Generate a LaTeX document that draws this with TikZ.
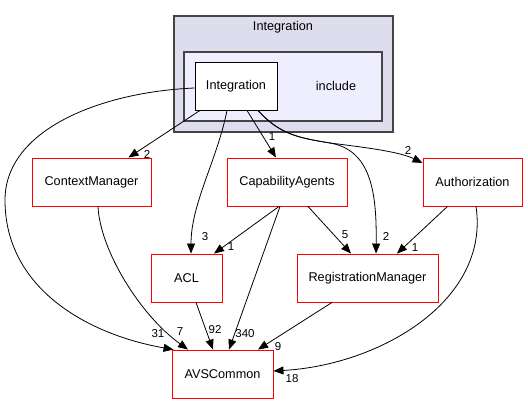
\documentclass[tikz,border=0pt]{standalone}
\usepackage{fontspec}
\setmainfont{Liberation Sans}
\usetikzlibrary{arrows.meta,calc}
\definecolor{clusterA}{HTML}{DDDDEE}
\definecolor{clusterB}{HTML}{EEEEFF}
\definecolor{clusterline}{HTML}{444444}
\begin{document}
\begin{tikzpicture}[x=1pt,y=-1pt,
  cluster/.style={draw=clusterline, line width=1.3pt, inner sep=0pt},
  box/.style={draw=red, line width=0.9pt, fill=white, minimum height=48pt, inner sep=0pt, font=\fontsize{12.7}{15}\selectfont},
  dirbox/.style={draw=black, line width=0.9pt, fill=white, minimum height=48pt, minimum width=82pt, inner sep=0pt, font=\fontsize{12.7}{15}\selectfont},
  ttl/.style={inner sep=0pt, font=\fontsize{12.7}{15}\selectfont},
  lbl/.style={inner sep=0pt, font=\fontsize{11.5}{13}\selectfont},
  edge/.style={draw=black, line width=0.8pt, -{Triangle[length=10pt,width=8pt]}},
]
\useasboundingbox (0,0) rectangle (528,404);
\node[cluster, fill=clusterA, minimum width=219pt, minimum height=116pt] (outer) at (283.5,74) {};
\node[ttl] (outert) at (283,27) {Integration};
\node[cluster, fill=clusterB, minimum width=198pt, minimum height=69pt] (inner) at (283,86.5) {};
\node[ttl] (innert) at (336,86) {include};
\node[dirbox] (intg) at (236,86) {Integration};

\node[box, minimum width=119pt] (cm) at (91.5,182) {ContextManager};
\node[box, minimum width=120pt] (cap) at (287,182) {CapabilityAgents};
\node[box, minimum width=99pt] (auth) at (472.5,182) {Authorization};
\node[box, minimum width=71pt] (acl) at (186.5,278) {ACL};
\node[box, minimum width=141pt] (reg) at (367.5,278) {RegistrationManager};
\node[box, minimum width=101pt] (avs) at (222.5,374) {AVSCommon};

\coordinate (split) at (330,143);

% edges from Integration
\draw[edge] ($(intg.south)+(-36,0)$) -- ($(cm.north)+(37,0)$);
\draw[edge] ($(intg.south)+(-9,0)$) .. controls +(-10,50) and +(0,-50) .. ($(acl.north)+(4.5,0)$);
\draw[edge] ($(intg.south)+(11,0)$) -- ($(cap.north)+(-11,0)$);
\draw[edge] ($(intg.south)+(22,0)$) .. controls (280,135) and (300,138) .. (split) .. controls (370,150) and (377,190) .. ($(reg.north)+(8.5,0)$);
\draw[edge] ($(intg.south)+(22,0)$) .. controls (280,135) and (300,138) .. (split) .. controls (370,148) and (400,152) .. ($(auth.west)+(0,-19)$);
\draw[edge] ($(intg.west)+(0,2)$) .. controls (100,92) and (5,130) .. (5,200) .. controls (5,290) and (90,335) .. ($(avs.north west)+(2,0)$);
% other edges
\draw[edge] ($(cm.south)+(6.5,0)$) .. controls (100,250) and (140,315) .. ($(avs.north)+(-34.5,0)$);
\draw[edge] ($(acl.south)+(9.5,0)$) -- ($(avs.north)+(-9.5,0)$);
\draw[edge] ($(cap.south)+(-7,0)$) -- ($(avs.north)+(6.5,0)$);
\draw[edge] ($(cap.south)+(-8,0)$) -- ($(acl.north)+(27.5,0)$);
\draw[edge] ($(cap.south)+(21,0)$) -- ($(reg.north)+(-16.5,0)$);
\draw[edge] ($(auth.south)+(-25,0)$) -- ($(reg.north)+(29.5,0)$);
\draw[edge] ($(auth.south)+(3.5,0)$) .. controls +(14,94) and +(107,-6) .. ($(avs.east)+(0,-3)$);
\draw[edge] ($(reg.south)+(-35.5,0)$) -- ($(avs.north)+(35.5,0)$);

% labels
\node[lbl] (l1) at (147,154) {2};
\node[lbl] (l2) at (205,237) {3};
\node[lbl] (l3) at (272,137) {1};
\node[lbl] (l4) at (386,236) {2};
\node[lbl] (l5) at (408,150) {2};
\node[lbl] (l6) at (158,334) {31};
\node[lbl] (l7) at (180,332) {7};
\node[lbl] (l8) at (215,330) {92};
\node[lbl] (l9) at (245,334) {340};
\node[lbl] (l10) at (231,247) {1};
\node[lbl] (l11) at (345,235) {5};
\node[lbl] (l12) at (415,248) {1};
\node[lbl] (l13) at (292,379) {18};
\node[lbl] (l14) at (278,347) {9};
\end{tikzpicture}
\end{document}
